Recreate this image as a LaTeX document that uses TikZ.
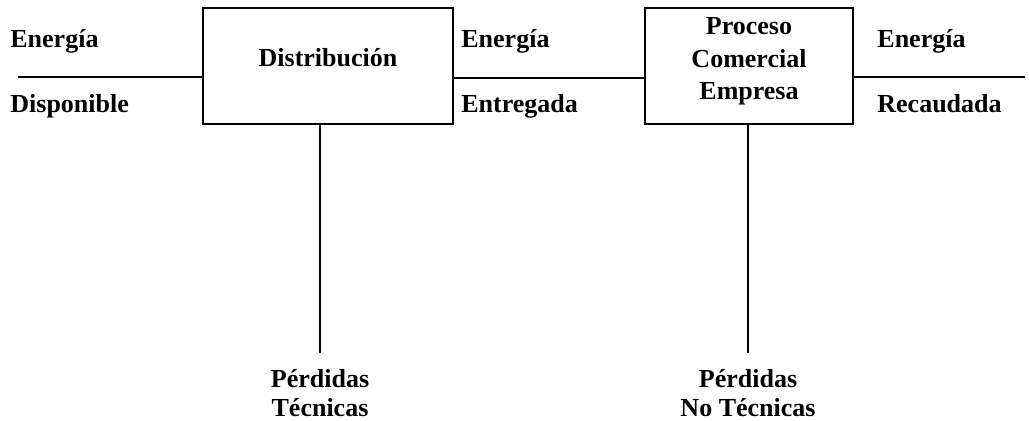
\documentclass[tikz,border=0pt]{standalone}
\usepackage{fontspec}
\setmainfont{Liberation Serif}
\usetikzlibrary{positioning,calc}

\begin{document}
\begin{tikzpicture}[
    x=0.5pt, y=-0.5pt,
    box/.style={rectangle, draw, line width=0.8pt, inner sep=0pt, minimum height=58pt},
    txt/.style={font=\fontsize{13}{14.5}\selectfont\bfseries, inner sep=0pt},
    flow/.style={line width=1pt}
]
\useasboundingbox (0,0) rectangle (1029,421);

% Blocks
\node[box, minimum width=125pt] (dist) at (328,66) {};
\node[box, minimum width=104pt] (proc) at (749,66) {};
\node[txt, anchor=base] (distlbl) at (328,67) {Distribución};
\node[txt, align=center, anchor=north, font=\fontsize{13}{16.2}\selectfont\bfseries] (proclbl) at (749,17.5) {Proceso\\Comercial\\Empresa};

% Energy labels
\node[txt, anchor=base west] (edisp) at (10,48) {Energía};
\node[txt, anchor=base west] (disp) at (10,113) {Disponible};
\node[txt, anchor=base west] (eent) at (461,48) {Energía};
\node[txt, anchor=base west] (ent) at (461,113) {Entregada};
\node[txt, anchor=base west] (erec) at (877,48) {Energía};
\node[txt, anchor=base west] (rec) at (877,113) {Recaudada};

% Losses
\node[txt, align=center, anchor=north] (ptec) at (320,369) {Pérdidas\\Técnicas};
\node[txt, align=center, anchor=north] (pnotec) at (748,369) {Pérdidas\\No Técnicas};

% Free ends
\coordinate (inicio) at (18,77);
\coordinate (medio) at (550,78.5);
\coordinate (fin) at (1025,77);

% Flow lines
\draw[flow] (inicio) -- (inicio -| dist.west);
\draw[flow] (dist.east |- medio) -- (proc.west |- medio);
\draw[flow] (proc.east |- fin) -- (fin);
\draw[flow] (ptec.north |- dist.south) -- ($(ptec.north)+(0,-16)$);
\draw[flow] (pnotec.north |- proc.south) -- ($(pnotec.north)+(0,-16)$);

\end{tikzpicture}
\end{document}
